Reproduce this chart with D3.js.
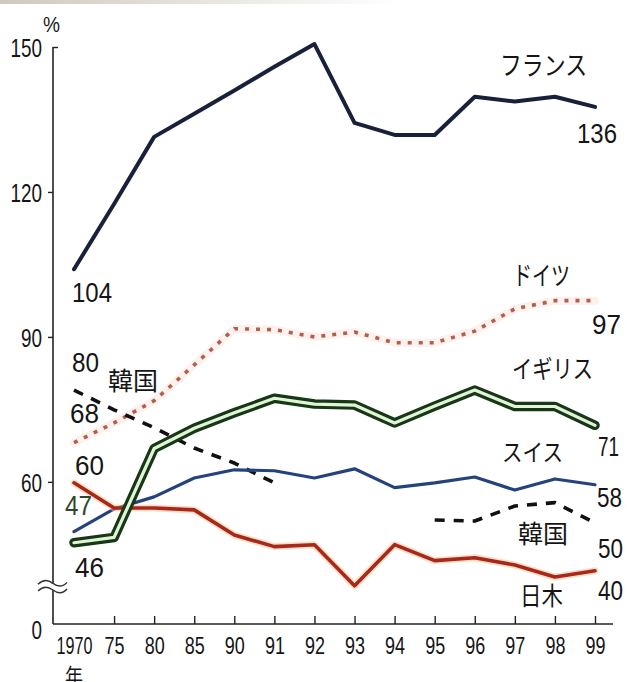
<!DOCTYPE html>
<html><head><meta charset="utf-8">
<script src="https://cdn.jsdelivr.net/npm/d3@7/dist/d3.min.js"></script>
<style>
html,body{margin:0;padding:0;background:#fff;}
svg{display:block;}
</style></head>
<body>
<svg id="chart" width="627" height="682"></svg>
<script>
// ---- data ----
const categories = ["1970","75","80","85","90","91","92","93","94","95","96","97","98","99"];
const france  = [104, 117.5, 131.4, 136.2, 141, 145.9, 150.6, 134.3, 131.8, 131.8, 139.7, 138.7, 139.7, 137.6];
const germany = [68.1, 72.2, 76.8, 84.2, 91.7, 91.5, 90, 91, 88.8, 88.8, 91.2, 95.8, 97.5, 97.5];
const uk      = [47.4, 48.5, 66.9, 71.1, 74.3, 77.3, 76.1, 75.9, 72.2, 75.7, 79, 75.6, 75.6, 71.7];
const swiss   = [49.7, 54.4, 56.9, 60.8, 62.5, 62.3, 60.8, 62.7, 58.8, 59.8, 61, 58.3, 60.6, 59.4];
const korea   = [79, 74.9, 71.2, 67, 63.9, 59.8, null, null, null, 52.1, 51.9, 55, 55.7, 51.5];
const japan   = [59.8, 54.6, 54.6, 54.2, 49, 46.6, 47, 38.5, 47, 43.7, 44.3, 42.8, 40.3, 41.6];
const yTicks  = [0, 60, 90, 120, 150];
const seriesNames = ["フランス", "ドイツ", "イギリス", "スイス", "韓国", "日木"];
const startLabels = ["104", "68", "46", "47", "80", "60"];
const endLabels   = ["136", "97", "71", "58", "50", "40"];
const unitLabel = "%";
const yearLabel = "年";

// ---- setup ----
const svg = d3.select("#chart");
const NUM = "'Liberation Sans', Arial, sans-serif";
const JP = "'Noto Sans CJK JP', 'Noto Sans CJK SC', sans-serif";

const x = d3.scalePoint().domain(categories).range([74, 595]);
const y = d3.scaleLinear().domain([0, 37, 150]).range([624, 593, 47]);
const axisX = 53;

// faint top band
const defs = svg.append("defs");
const grad = defs.append("linearGradient").attr("id","topband");
grad.append("stop").attr("offset","0%").attr("stop-color","#cfc9bd");
grad.append("stop").attr("offset","100%").attr("stop-color","#ffffff");
svg.append("rect").attr("x",0).attr("y",0).attr("width",400).attr("height",4).attr("fill","url(#topband)");

function txt(s, tx, ty, w, fs, family, fill) {
  return svg.append("text").attr("x", tx).attr("y", ty)
    .attr("textLength", w).attr("lengthAdjust", "spacingAndGlyphs")
    .style("font-size", fs + "px").style("font-family", family)
    .attr("fill", fill || "#151515").text(s);
}

// ---- x axis ----
const gx = svg.append("g").attr("transform", `translate(0,${y(0)})`)
  .call(d3.axisBottom(x).tickSizeInner(-8).tickSizeOuter(0).tickPadding(13));
gx.select(".domain").remove();
gx.selectAll(".tick line").attr("stroke", "#222").attr("stroke-width", 1.4)
  .filter(d => d === categories[0]).remove();
gx.selectAll(".tick text")
  .attr("textLength", d => d.length === 4 ? 36 : 20)
  .attr("lengthAdjust", "spacingAndGlyphs")
  .style("font-size", "24px").style("font-family", NUM).attr("fill", "#151515");
svg.append("line").attr("x1", axisX).attr("x2", 613).attr("y1", y(0)).attr("y2", y(0))
  .attr("stroke", "#222").attr("stroke-width", 1.6);

// ---- y axis with break ----
const breakTop = y(39), breakBot = y(37) - 3;
svg.append("line").attr("x1", axisX).attr("x2", axisX).attr("y1", y(150)).attr("y2", breakTop)
  .attr("stroke", "#222").attr("stroke-width", 1.6);
svg.append("line").attr("x1", axisX).attr("x2", axisX).attr("y1", breakBot).attr("y2", y(0))
  .attr("stroke", "#222").attr("stroke-width", 1.6);
[breakTop, breakBot].forEach(by => {
  svg.append("path")
    .attr("d", `M38,${by+1} q7,-7 15,-1 t14,-1`)
    .attr("fill", "none").attr("stroke", "#333").attr("stroke-width", 1.4);
});
const gy = svg.append("g").attr("transform", `translate(${axisX},0)`)
  .call(d3.axisLeft(y).tickValues(yTicks).tickSizeInner(5).tickSizeOuter(0).tickPadding(6).tickFormat(d3.format("d")));
gy.select(".domain").remove();
gy.selectAll(".tick line").attr("stroke", "#222").attr("stroke-width", 1.4)
  .filter(d => d === 150).attr("x2", 5);
gy.selectAll(".tick line").filter(d => d === 0).remove();
gy.selectAll(".tick text")
  .attr("textLength", d => String(d).length * 10.5)
  .attr("lengthAdjust", "spacingAndGlyphs")
  .attr("dy", d => d === 0 ? "0.55em" : "0.36em")
  .style("font-size", "26px").style("font-family", NUM).attr("fill", "#151515");

txt(unitLabel, 43, 32, 17, 22, NUM);

// ---- lines ----
const line = d3.line()
  .defined(d => d != null)
  .x((d, i) => x(categories[i]))
  .y(d => y(d));

function draw(data, styles) {
  styles.forEach(s => {
    const p = svg.append("path").datum(data).attr("d", line)
      .attr("fill", "none").attr("stroke", s.c).attr("stroke-width", s.w)
      .attr("stroke-linejoin", "round").attr("stroke-linecap", s.cap || "round");
    if (s.o) p.attr("stroke-opacity", s.o);
    if (s.dash) p.attr("stroke-dasharray", s.dash);
  });
}

draw(germany, [{c: "#fbe0d6", w: 8, o: 0.45}, {c: "#b35f50", w: 3.6, dash: "4,7", cap: "butt"}]);
draw(korea,   [{c: "#111", w: 3.6, dash: "10,9", cap: "butt"}]);
draw(france,  [{c: "#19213a", w: 4}]);
draw(swiss,   [{c: "#24437c", w: 3.2}]);
draw(japan,   [{c: "#f6c08f", w: 7, o: 0.5}, {c: "#a8281c", w: 3.6}]);
draw(uk,      [{c: "#173817", w: 9.5}, {c: "#e3f3d6", w: 3.2}]);

// ---- value labels ----
const allSeries = [france, germany, uk, swiss, korea, japan];
const x0 = x(categories[0]), x1 = x(categories[categories.length - 1]);
// [dx, dy, width] relative to first / last point of each series
const startOff = [[-2, 33, 40], [-4, -20, 29], [1, 34, 29], [-9, -17, 27], [-2, -18, 27], [1, -8, 29]];
const startColor = ["#151515", "#151515", "#151515", "#2c4a2c", "#151515", "#151515"];
startLabels.forEach((s, i) => {
  const o = startOff[i];
  txt(s, x0 + o[0], y(allSeries[i][0]) + o[1], o[2], 28, NUM, startColor[i]);
});
const endOff = [[-18, 36, 40], [-3, 33, 29], [3, 31, 21], [2, 22, 25], [3, 35, 25], [3, 29, 25]];
endLabels.forEach((s, i) => {
  const o = endOff[i];
  const arr = allSeries[i];
  txt(s, x1 + o[0], y(arr[arr.length - 1]) + o[1], o[2], 27, NUM);
});

// ---- series names ----
const namePos = [[500, 75, 87, 26], [513, 285, 57, 26], [512, 378, 81, 25], [502, 461, 61, 24], [518, 543, 50, 25], [520, 605, 43, 25]];
seriesNames.forEach((s, i) => {
  const p = namePos[i];
  txt(s, p[0], p[1], p[2], p[3], JP);
});
txt(seriesNames[4], 108, 390, 50, 25, JP);
txt(yearLabel, 65, 684, 18, 22, JP);
</script>
</body></html>
